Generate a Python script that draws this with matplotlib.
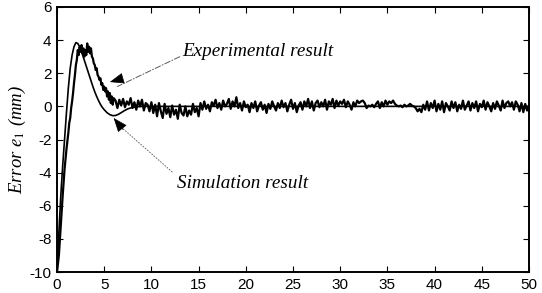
import matplotlib
matplotlib.use("Agg")
import matplotlib.pyplot as plt
import numpy as np

# Simulation result (smooth)
sim_t = [0, 0.2, 0.4, 0.6, 0.8, 1.0, 1.2, 1.4, 1.6, 1.8, 2.0, 2.2, 2.4, 2.6, 2.8,
         3.0, 3.2, 3.4, 3.6, 3.8, 4.0, 4.2, 4.4, 4.6, 4.8, 5.0, 5.3, 5.6, 5.9, 6.2,
         6.5, 6.8, 7.1, 7.5, 8.0, 8.5, 9.0, 10.0, 50.0]
sim_y = [-10, -7.6, -5.4, -3.6, -2.0, -0.4, 1.1, 2.3, 3.1, 3.6, 3.85, 3.8, 3.6, 3.3, 2.95,
         2.6, 2.25, 1.9, 1.55, 1.2, 0.88, 0.6, 0.35, 0.12, -0.06, -0.2, -0.38, -0.5, -0.56, -0.55,
         -0.48, -0.38, -0.27, -0.15, -0.06, -0.02, 0.0, 0.0, 0.0]

# Experimental result: transient part
exp_t_transient = [0.0, 0.2, 0.4, 0.6, 0.8, 1.0, 1.1, 1.2, 1.3, 1.4, 1.5, 1.6, 1.7, 1.8, 1.9,
                   2.0, 2.1, 2.2, 2.3, 2.4, 2.5, 2.6, 2.7, 2.8, 2.9, 3.0, 3.1, 3.2, 3.3, 3.4,
                   3.5, 3.6, 3.7, 3.8, 3.9, 4.0, 4.1, 4.2, 4.3, 4.4, 4.5, 4.6, 4.7, 4.8, 4.9,
                   5.0, 5.1, 5.2, 5.3, 5.4, 5.5, 5.6, 5.7, 5.8, 5.9, 6.0]
exp_y_transient = [-10, -9.0, -7.2, -5.4, -3.8, -2.6, -2.1, -1.6, -1.0, -0.7, -0.1, 0.3, 0.8, 1.4, 1.9,
                   2.5, 2.8, 3.4, 3.1, 3.6, 3.3, 3.7, 3.2, 3.5, 3.0, 3.4, 3.1, 3.8, 3.3, 3.6,
                   3.2, 3.5, 3.0, 2.9, 2.6, 2.5, 2.2, 2.3, 1.9, 1.8, 1.6, 1.7, 1.3, 1.4, 1.0,
                   1.2, 0.9, 1.1, 0.6, 0.9, 0.4, 0.8, 0.2, 0.6, 0.1, 0.5]

# Experimental result: steady-state noise, samples every 0.2 s from 6.2 to 50
exp_y_steady = [
    0.35, -0.1, 0.4, 0.05, 0.45, -0.05, 0.3, 0.1, 0.5, -0.1,
    0.25, -0.2, 0.35, 0.0, 0.4, -0.25, 0.2, 0.1, -0.3, 0.25,
    -0.4, 0.1, -0.6, 0.2, -0.3, -0.7, 0.15, -0.45, -0.1, -0.65,
    0.05, -0.5, -0.2, -0.75, 0.1, -0.4, -0.55, 0.0, -0.6, -0.25,
    -0.5, 0.15, -0.35, -0.1, -0.6, 0.2, -0.2, 0.3, -0.15, 0.1,
    -0.3, 0.25, 0.05, 0.4, -0.1, 0.2, -0.2, 0.35, 0.0, 0.15,
    0.45, -0.15, 0.3, 0.0, 0.55, -0.1, 0.2, -0.25, 0.3, -0.05,
    0.1, -0.35, 0.2, -0.1, 0.3, -0.3, 0.05, 0.25, -0.2, 0.1,
    -0.4, 0.15, -0.15, 0.3, 0.0, -0.25, 0.2, -0.1, 0.35, -0.05,
    0.2, -0.3, 0.1, 0.4, -0.15, 0.2, -0.35, 0.05, 0.25, -0.2,
    0.3, 0.0, 0.45, -0.1, 0.3, -0.25, 0.2, 0.35, -0.05, 0.25,
    0.0, 0.4, -0.2, 0.3, 0.1, 0.45, -0.1, 0.35, 0.05, 0.3,
    0.15, 0.4, -0.05, 0.3, 0.1, -0.2, 0.25, 0.0, 0.35, 0.2,
    0.3, 0.35, 0.2, -0.1, 0.05, 0.0, 0.1, -0.05, 0.15, 0.3,
    -0.1, 0.25, 0.0, 0.35, 0.1, 0.3, 0.2, 0.35, 0.15, 0.05,
    0.0, 0.05, -0.05, 0.1, 0.0, 0.05, 0.15, 0.05, 0.0, -0.1,
    -0.3, -0.15, -0.35, 0.1, -0.2, 0.3, -0.25, 0.2, -0.1, 0.35,
    -0.3, 0.15, -0.2, 0.3, -0.35, 0.2, 0.0, -0.25, 0.3, -0.1,
    0.25, -0.3, 0.1, -0.15, 0.35, -0.2, 0.05, 0.3, -0.25, 0.2,
    -0.1, 0.3, -0.3, 0.15, -0.05, 0.35, -0.2, 0.25, 0.0, -0.3,
    0.2, -0.15, 0.3, 0.05, -0.25, 0.35, -0.1, 0.2, 0.3, 0.0,
    0.25, -0.2, 0.3, 0.1, -0.3, 0.2, -0.35, 0.15, -0.25, 0.05,
]
exp_t_steady = np.round(np.arange(1, len(exp_y_steady) + 1) * 0.2 + 6.0, 2)

exp_t = list(exp_t_transient) + list(exp_t_steady)
exp_y = list(exp_y_transient) + list(exp_y_steady)

x_ticks = [0, 5, 10, 15, 20, 25, 30, 35, 40, 45, 50]
y_ticks = [-10, -8, -6, -4, -2, 0, 2, 4, 6]

plt.rcParams['mathtext.fontset'] = 'stix'
plt.rcParams['axes.unicode_minus'] = False

fig = plt.figure(figsize=(5.42, 2.93), dpi=100)
ax = fig.add_axes([57 / 542, 21 / 293, 472 / 542, 265 / 293])

ax.plot(sim_t, sim_y, color='black', lw=1.2)
ax.plot(exp_t, exp_y, color='black', lw=1.6)

ax.set_xlim(0, 50)
ax.set_ylim(-10, 6)
ax.set_xticks(x_ticks)
ax.set_yticks(y_ticks)
ax.tick_params(direction='in', length=4, width=0.8, top=True, right=True,
               labelsize=11, pad=4)
for lab in ax.get_xticklabels() + ax.get_yticklabels():
    lab.set_family('Liberation Sans')
for s in ax.spines.values():
    s.set_linewidth(1.4)

ax.set_ylabel('Error $e_1$ (mm)', family='Liberation Serif', style='italic',
              fontsize=13.5, labelpad=1)

serif = dict(family='Liberation Serif', style='italic', fontsize=13.8)

# Experimental annotation
ax.text(13.3, 3.3, 'Experimental result', va='center', ha='left', **serif)
ax.annotate('', xy=(6.4, 1.2), xytext=(13.0, 3.0),
            arrowprops=dict(arrowstyle='-', ls=(0, (6, 2, 1, 2)), lw=0.7, color='0.35',
                            shrinkA=0, shrinkB=0))
ax.annotate('', xy=(5.6, 1.47), xytext=(6.7, 1.65),
            arrowprops=dict(arrowstyle='-|>,head_length=0.9,head_width=0.35', lw=0.5,
                            color='black', shrinkA=0, shrinkB=0))

# Simulation annotation
ax.text(12.7, -4.63, 'Simulation result', va='center', ha='left', **serif)
ax.annotate('', xy=(6.8, -1.25), xytext=(12.2, -3.96),
            arrowprops=dict(arrowstyle='-', ls=(0, (1, 2)), lw=0.7, color='0.4',
                            shrinkA=0, shrinkB=0))
ax.annotate('', xy=(6.0, -0.7), xytext=(7.0, -1.4),
            arrowprops=dict(arrowstyle='-|>,head_length=0.9,head_width=0.35', lw=0.5,
                            color='black', shrinkA=0, shrinkB=0))

fig.savefig('out.png', dpi=100)
